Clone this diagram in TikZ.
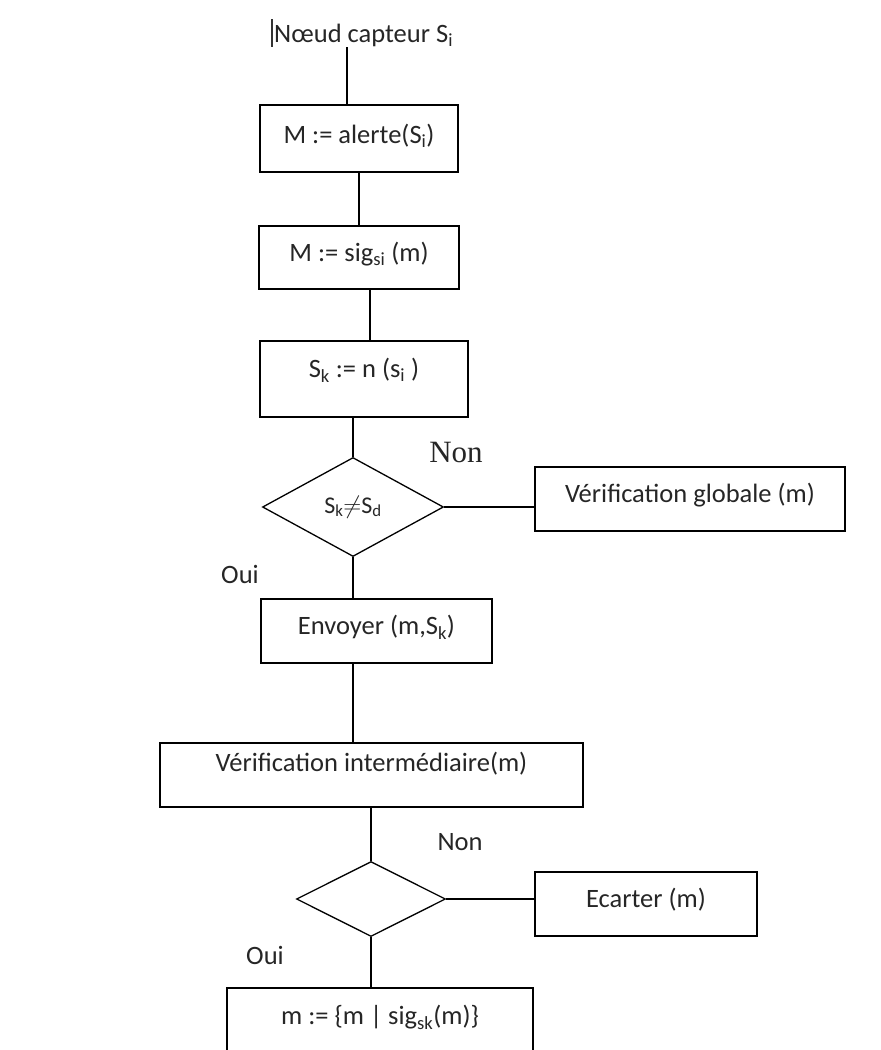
\documentclass[tikz,border=0pt]{standalone}
\usepackage{fontspec}
\setmainfont{Carlito}
\newfontfamily\serifnon{Liberation Serif}
\usetikzlibrary{shapes.geometric}
\begin{document}
\begin{tikzpicture}[x=1pt,y=-1pt,
  every node/.style={font=\fontsize{26.5}{30}\selectfont, text=black!85},
  stepbox/.style={draw, line width=1.3pt, rectangle, inner sep=0pt},
  choice/.style={draw, line width=1.3pt, diamond, shape aspect=1.8, inner sep=0pt},
  link/.style={line width=1.3pt},
  lift/.style={text depth=#1}]
\useasboundingbox (0,0) rectangle (881,1050);
\clip (0,0) rectangle (881,1050);
\fill[white] (0,0) rectangle (881,1050);

% title and caret mark
\node[anchor=west, inner sep=0pt] (title) at (274,35) {N\oe ud capteur S\textsubscript{i}};
\draw[line width=2.6pt, black!80] (272,19) -- (272,47);

% main column of steps
\node[stepbox, minimum width=198, minimum height=67, lift=10pt] (b1) at (359,138.5) {M := alerte(S\textsubscript{i})};
\node[stepbox, minimum width=200, minimum height=63, lift=12pt] (b2) at (359,257.5) {M := sig\textsubscript{si} (m)};
\node[stepbox, minimum width=208, minimum height=76, lift=22pt] (b3) at (364,379) {S\textsubscript{k} := n (s\textsubscript{i} )};
\node[choice, minimum width=181, minimum height=99, font=\fontsize{24}{28}\selectfont] (d1) at (353,507) {S\textsubscript{k}$\neq$S\textsubscript{d}};
\node[stepbox, minimum width=310, minimum height=64, lift=12pt] (glob) at (690,499) {V\'erification globale (m)};
\node[stepbox, minimum width=231, minimum height=64, lift=12pt] (env) at (376.5,631) {Envoyer (m,S\textsubscript{k})};
\node[stepbox, minimum width=423, minimum height=64, lift=26pt] (inter) at (371.5,775) {V\'erification interm\'ediaire(m)};
\node[choice, minimum width=149, minimum height=75] (d2) at (371,899) {};
\node[stepbox, minimum width=222, minimum height=64, lift=12pt] (ecart) at (646,904) {Ecarter (m)};
\node[stepbox, minimum width=306, minimum height=90, lift=36pt] (last) at (380,1033) {m := \{m | sig\textsubscript{sk}(m)\}};

% branch labels
\node[font=\serifnon\fontsize{31}{34}\selectfont] (non1) at (456,452) {Non};
\node (oui1) at (240,574) {Oui};
\node (non2) at (460,842) {Non};
\node (oui2) at (265,955) {Oui};

% connectors
\draw[link] ([xshift=-12]b1.north) -- ([xshift=-12]b1.north |- title.south);
\draw[link] (b1.south) -- (b1.south |- b2.north);
\draw[link] ([xshift=11]b2.south) -- ([xshift=11]b2.south |- b3.north);
\draw[link] (d1.north) -- (d1.north |- b3.south);
\draw[link] (d1.east) -- (d1.east -| glob.west);
\draw[link] (d1.south) -- (d1.south |- env.north);
\draw[link] ([xshift=-18.5]inter.north) -- ([xshift=-18.5]inter.north |- env.south);
\draw[link] (d2.north) -- (d2.north |- inter.south);
\draw[link] (d2.east) -- (d2.east -| ecart.west);
\draw[link] (d2.south) -- (d2.south |- last.north);
\end{tikzpicture}
\end{document}
